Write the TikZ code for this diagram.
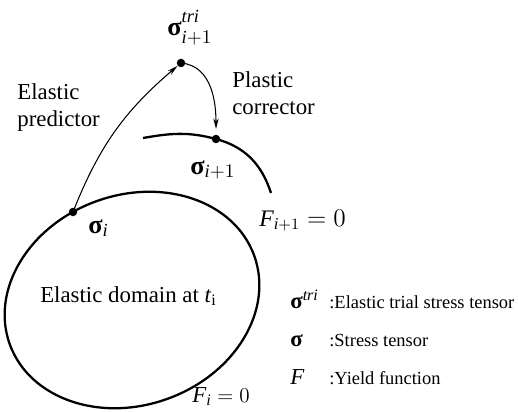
\documentclass[tikz,border=0pt]{standalone}
\usepackage{amsmath}
\usepackage{fontspec}
\setmainfont{Liberation Serif}
\usetikzlibrary{arrows.meta}
\newcommand{\bsig}{\text{\bfseries σ}}
\newcommand{\itx}[1]{\text{\itshape #1}}
\newcommand{\trisup}{\itx{tri}\rule[-2.5pt]{0pt}{2.5pt}}
\begin{document}
\begin{tikzpicture}[
  lbl/.style={font=\fontsize{13}{15.5}\selectfont, inner sep=0pt},
  sym/.style={font=\fontsize{15}{18}\selectfont, inner sep=0pt, anchor=base west},
  key/.style={font=\fontsize{10.5}{13}\selectfont, inner sep=0pt, anchor=base west},
  dot/.style={circle, fill=black, inner sep=0pt, minimum size=0.17cm},
  thin arrow/.style={line width=0.6pt, -{Stealth[length=6pt,width=3pt]}}
]
\useasboundingbox (0,0) rectangle (10.36,8.22);
% Yield surface at t_i
\draw[line width=1.3pt, rotate around={20:(2.64,2.22)}] (2.64,2.22) ellipse (2.6 and 2.1);
% Yield surface at t_i+1
\coordinate (lend) at (2.86,5.46);
\coordinate (rend) at (5.42,4.36);
\node[dot] (snext) at (4.32,5.44) {};
\draw[line width=1.3pt] (lend) to[out=10, in=165] (snext.center)
    to[out=-15, in=108] (rend);
% Stress points
\node[dot] (si) at (1.46,3.98) {};
\node[dot] (tri) at (3.62,6.96) {};
% Predictor and corrector
\draw[thin arrow] (si.center) to[bend left=14] (tri);
\draw[thin arrow, shorten >=0.2cm] (tri.center) to[out=-5, in=90] (snext.center);
% Labels
\node[sym] (trilbl) at (3.34,7.50) {$\bsig_{\itx{i}+1}^{\trisup}$};
\node[lbl, anchor=base west, align=left] (pred) at (0.34,5.68) {Elastic\\predictor};
\node[lbl, anchor=base west, align=left] (corr) at (4.64,5.92) {Plastic\\corrector};
\node[sym] (snextlbl) at (3.80,4.74) {$\bsig_{\itx{i}+1}$};
\node[sym] (silbl) at (1.76,3.56) {$\bsig_{\itx{i}}$};
\node[lbl, anchor=base west, font=\fontsize{13.5}{16}\selectfont] (fnext) at (5.18,3.70) {$\itx{F}_{\itx{i}+1}=0$};
\node[lbl, anchor=base west] (fi) at (3.84,0.18) {$\itx{F}_{\itx{i}}=0$};
\node[lbl, anchor=base] (domain) at (2.57,2.18) {Elastic domain at \textit{t}\textsubscript{i}};
% Legend
\node[key, font=\fontsize{13}{15}\selectfont] (k1) at (5.80,2.06) {$\bsig^{\trisup}$};
\node[key] (v1) at (6.58,2.06) {:Elastic trial stress tensor};
\node[key, font=\fontsize{13}{15}\selectfont] (k2) at (5.80,1.30) {$\bsig$};
\node[key] (v2) at (6.58,1.30) {:Stress tensor};
\node[key, font=\fontsize{13}{15}\selectfont] (k3) at (5.80,0.54) {$\itx{F}$};
\node[key] (v3) at (6.58,0.54) {:Yield function};
\end{tikzpicture}
\end{document}
